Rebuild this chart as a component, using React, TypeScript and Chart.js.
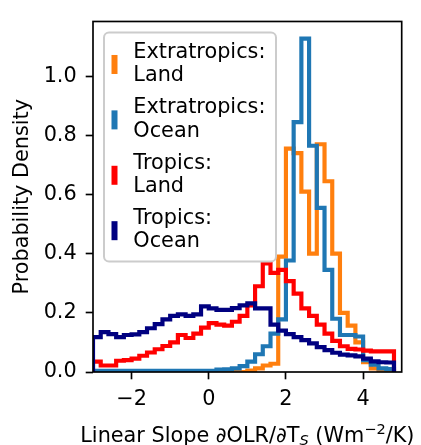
import React, { useEffect, useRef } from "react";
import { Chart, registerables } from "chart.js";

Chart.register(...registerables);

const FONT = "DejaVu Sans";
const FS = 20.8;

const binEdges = [
  -3.0, -2.8, -2.6, -2.4, -2.2, -2.0, -1.8, -1.6, -1.4, -1.2,
  -1.0, -0.8, -0.6, -0.4, -0.2, 0.0, 0.2, 0.4, 0.6, 0.8,
  1.0, 1.2, 1.4, 1.6, 1.8, 2.0, 2.2, 2.4, 2.6, 2.8,
  3.0, 3.2, 3.4, 3.6, 3.8, 4.0, 4.2, 4.4, 4.6, 4.8,
];

const extratropicsLand = [
  0, 0, 0, 0, 0, 0, 0, 0, 0, 0,
  0, 0, 0, 0, 0, 0, 0, 0, 0, 0,
  0.005, 0.012, 0.022, 0.028, 0.39, 0.755, 0.74, 0.61, 0.4, 0.77,
  0.645, 0.4, 0.2, 0.157, 0.1, 0.033, 0.012, 0.006, 0.004,
];

const extratropicsOcean = [
  0.004, 0.004, 0.004, 0.004, 0.004, 0.004, 0.004, 0.004, 0.004, 0.004,
  0.004, 0.004, 0.004, 0.004, 0.004, 0.004, 0.008, 0.009, 0.012, 0.02,
  0.035, 0.06, 0.087, 0.13, 0.178, 0.377, 0.845, 1.127, 0.765, 0.555,
  0.345, 0.18, 0.125, 0.125, 0.12, 0.04, 0.025, 0.012, 0.01,
];

const tropicsLand = [
  0.035, 0.022, 0.022, 0.038, 0.04, 0.045, 0.055, 0.066, 0.077, 0.088,
  0.1, 0.125, 0.115, 0.13, 0.15, 0.165, 0.16, 0.157, 0.17, 0.19,
  0.225, 0.29, 0.367, 0.335, 0.345, 0.307, 0.265, 0.215, 0.19, 0.16,
  0.13, 0.105, 0.087, 0.078, 0.076, 0.072, 0.07, 0.07, 0.07,
];

const tropicsOcean = [
  0.118, 0.135, 0.128, 0.118, 0.125, 0.127, 0.135, 0.148, 0.162, 0.178,
  0.19, 0.195, 0.19, 0.195, 0.222, 0.215, 0.21, 0.21, 0.216, 0.225,
  0.232, 0.215, 0.215, 0.16, 0.14, 0.128, 0.118, 0.108, 0.097, 0.084,
  0.074, 0.065, 0.059, 0.056, 0.053, 0.045, 0.036, 0.033, 0.032,
];

const seriesLabels = [
  ["Extratropics:", "Land"],
  ["Extratropics:", "Ocean"],
  ["Tropics:", "Land"],
  ["Tropics:", "Ocean"],
];
const seriesValues = [extratropicsLand, extratropicsOcean, tropicsLand, tropicsOcean];
const seriesColors = ["#ff7f0e", "#1f77b4", "#ff0000", "#000080"];

const xTicks = [-2, 0, 2, 4];
const yTicks = [0, 0.2, 0.4, 0.6, 0.8, 1.0];
const xRange = [-3, 5];
const yRange = [0, 1.185];

const yTitle = "Probability Density";
const xTitleParts = [
  { text: "Linear Slope \u2202OLR/\u2202T", kind: "normal" },
  { text: "S", kind: "sub" },
  { text: " (Wm", kind: "normal" },
  { text: "\u22122", kind: "sup" },
  { text: "/K)", kind: "normal" },
];

function stepPoints(values: number[]) {
  const pts: { x: number; y: number }[] = [{ x: binEdges[0], y: 0 }];
  values.forEach((v, i) => {
    pts.push({ x: binEdges[i], y: v });
    pts.push({ x: binEdges[i + 1], y: v });
  });
  pts.push({ x: binEdges[binEdges.length - 1], y: 0 });
  return pts;
}

const decorPlugin = {
  id: "decor",
  afterDraw(chart: any) {
    const ctx = chart.ctx as CanvasRenderingContext2D;
    const a = chart.chartArea;
    ctx.save();
    // spines
    ctx.strokeStyle = "#000";
    ctx.lineWidth = 1.67;
    ctx.lineJoin = "miter";
    ctx.strokeRect(a.left, a.top, a.right - a.left, a.bottom - a.top);

    // legend
    const lx = a.left + 11;
    const ly = a.top + 11;
    const lw = 172;
    const lh = 229;
    ctx.beginPath();
    (ctx as any).roundRect(lx, ly, lw, lh, 5);
    ctx.fillStyle = "rgba(255,255,255,0.8)";
    ctx.fill();
    ctx.strokeStyle = "#cccccc";
    ctx.lineWidth = 2;
    ctx.stroke();
    ctx.font = `${FS}px "${FONT}"`;
    ctx.textAlign = "left";
    ctx.textBaseline = "alphabetic";
    for (let k = 0; k < seriesLabels.length; k++) {
      const c = ly + 32 + 55.4 * k;
      ctx.fillStyle = seriesColors[k];
      ctx.fillRect(lx + 7.5, c - 9.5, 6, 19);
      ctx.fillStyle = "#000";
      ctx.fillText(seriesLabels[k][0], lx + 29.3, c - 6.6);
      ctx.fillText(seriesLabels[k][1], lx + 29.3, c + 16.7);
    }

    // y title
    ctx.save();
    ctx.translate(28, (a.top + a.bottom) / 2);
    ctx.rotate(-Math.PI / 2);
    ctx.textAlign = "center";
    ctx.fillStyle = "#000";
    ctx.font = `${FS}px "${FONT}"`;
    ctx.fillText(yTitle, 0, 0);
    ctx.restore();

    // x title with sub/superscript
    const small = FS * 0.7;
    const fontFor = (kind: string) =>
      kind === "normal"
        ? `${FS}px "${FONT}"`
        : kind === "sub"
        ? `italic ${small}px "${FONT}"`
        : `${small}px "${FONT}"`;
    let total = 0;
    const widths = xTitleParts.map((p) => {
      ctx.font = fontFor(p.kind);
      const w = ctx.measureText(p.text).width;
      total += w;
      return w;
    });
    let x = (a.left + a.right) / 2 - total / 2;
    const base = 441.5;
    ctx.textAlign = "left";
    ctx.fillStyle = "#000";
    xTitleParts.forEach((p, i) => {
      ctx.font = fontFor(p.kind);
      const dy = p.kind === "sub" ? 3.5 : p.kind === "sup" ? -7.5 : 0;
      ctx.fillText(p.text, x, base + dy);
      x += widths[i];
    });
    ctx.restore();
  },
};

export default function App() {
  const ref = useRef<HTMLCanvasElement | null>(null);
  useEffect(() => {
    if (!ref.current) return;
    const order = [3, 2, 1, 0];
    const chart = new Chart(ref.current, {
      type: "line",
      data: {
        datasets: order.map((k) => ({
          label: seriesLabels[k].join(" "),
          data: stepPoints(seriesValues[k]),
          borderColor: seriesColors[k],
          backgroundColor: seriesColors[k],
          borderWidth: 4.17,
          borderJoinStyle: "miter" as const,
          borderCapStyle: "butt" as const,
          pointRadius: 0,
          fill: false,
          tension: 0,
        })),
      },
      options: {
        animation: false,
        responsive: false,
        maintainAspectRatio: false,
        devicePixelRatio: 1,
        layout: { padding: { top: 5, right: 19.3, bottom: 0, left: 0 } },
        plugins: {
          legend: { display: false },
          tooltip: { enabled: false },
          title: { display: false },
        },
        scales: {
          x: {
            type: "linear",
            min: xRange[0],
            max: xRange[1],
            afterBuildTicks: (s: any) => {
              s.ticks = xTicks.map((v) => ({ value: v }));
            },
            afterFit: (s: any) => {
              s.height = 73;
            },
            ticks: {
              callback: (v: any) => (v < 0 ? "\u2212" + Math.abs(v) : String(v)),
              font: { family: FONT, size: FS },
              color: "#000",
              padding: 8,
              maxRotation: 0,
              autoSkip: false,
            },
            grid: {
              drawOnChartArea: false,
              drawTicks: true,
              tickLength: 7.3,
              tickWidth: 1.67,
              tickColor: "#000",
            },
            border: { display: false },
          },
          y: {
            type: "linear",
            min: yRange[0],
            max: yRange[1],
            afterBuildTicks: (s: any) => {
              s.ticks = yTicks.map((v) => ({ value: v }));
            },
            afterFit: (s: any) => {
              s.width = 93;
            },
            ticks: {
              callback: (v: any) => Number(v).toFixed(1),
              font: { family: FONT, size: FS },
              color: "#000",
              padding: 9,
              autoSkip: false,
            },
            grid: {
              drawOnChartArea: false,
              drawTicks: true,
              tickLength: 7.3,
              tickWidth: 1.67,
              tickColor: "#000",
            },
            border: { display: false },
          },
        },
      },
      plugins: [decorPlugin],
    });
    return () => chart.destroy();
  }, []);
  return (
    <div style={{ position: "absolute", left: 0, top: 0, width: 421, height: 445, background: "#fff" }}>
      <canvas ref={ref} width={421} height={445} style={{ display: "block", width: 421, height: 445 }} />
    </div>
  );
}
